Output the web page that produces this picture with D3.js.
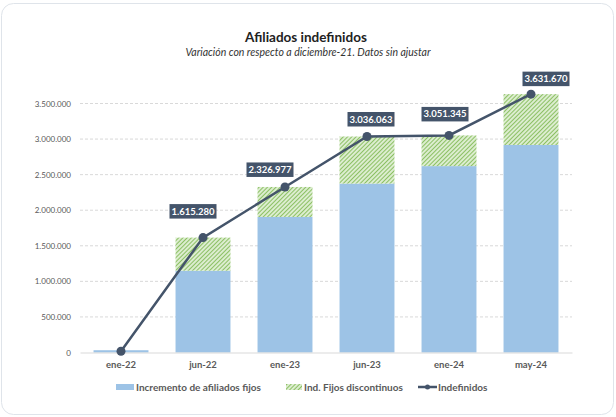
<!DOCTYPE html>
<html>
<head>
<meta charset="utf-8">
<script src="https://cdn.jsdelivr.net/npm/d3@7"></script>
<style>
  body { margin: 0; background: #ffffff; }
  svg { display: block; font-family: Lato, "Open Sans", sans-serif; }
</style>
</head>
<body>
<div id="chart"></div>
<script>
// data
var categories = ["ene-22", "jun-22", "ene-23", "jun-23", "ene-24", "may-24"];
var fijos = [32000, 1150000, 1905000, 2375000, 2620000, 2917000];
var discontinuos = [0, 465280, 421977, 661063, 431345, 714670];
var indefinidos = [18000, 1615280, 2326977, 3036063, 3051345, 3631670];
var yTicks = [0, 500000, 1000000, 1500000, 2000000, 2500000, 3000000, 3500000];
var showLabel = [false, true, true, true, true, true];
// label box offsets from the point (layout only)
var labelDx = [0, -10, -15, 4, -4, 15];
var labelDy = [0, -19, -10, -10, -14, -8];

var W = 616, H = 417;
var blue = "#9dc3e6", green = "#78b548", dark = "#44546a", grey = "#595959";

var svg = d3.select("#chart")
    .append("svg")
    .attr("width", W)
    .attr("height", H);

// card
svg.append("rect")
    .attr("x", 1.5).attr("y", 3.5)
    .attr("width", 612).attr("height", 411)
    .attr("rx", 12)
    .style("fill", "white")
    .style("stroke", "#dfe4ea")
    .style("stroke-width", 1);

var defs = svg.append("defs");
var pat = defs.append("pattern")
    .attr("id", "hatch")
    .attr("patternUnits", "userSpaceOnUse")
    .attr("width", 3).attr("height", 3)
    .attr("patternTransform", "rotate(45)");
pat.append("rect").attr("width", 3).attr("height", 3).style("fill", "#dcedcf");
pat.append("line")
    .attr("x1", 0).attr("y1", 0).attr("x2", 0).attr("y2", 3)
    .style("stroke", green).style("stroke-width", 1.6);

var x = d3.scaleBand()
    .domain(categories)
    .range([80, 572])
    .paddingInner(0.33)
    .paddingOuter(0.165);

var y = d3.scaleLinear()
    .domain([0, 3500000])
    .range([352.5, 103.5]);

var fmt = function(v) {
    return d3.format(",")(v).replace(/,/g, ".");
};

// title
svg.append("text")
    .attr("x", 306).attr("y", 42)
    .attr("text-anchor", "middle")
    .style("font-size", "13.5px")
    .style("font-weight", "bold")
    .style("fill", "#222")
    .text("Afiliados indefinidos");
svg.append("text")
    .attr("x", 308).attr("y", 56)
    .attr("text-anchor", "middle")
    .style("font-size", "10.5px")
    .style("font-style", "italic")
    .style("fill", "#333")
    .text("Variación con respecto a diciembre-21. Datos sin ajustar");

// grid
var grid = svg.append("g");
grid.selectAll("line")
    .data(yTicks.filter(function(d) { return d > 0; }))
    .enter().append("line")
    .attr("x1", 80).attr("x2", 572)
    .attr("y1", function(d) { return y(d); })
    .attr("y2", function(d) { return y(d); })
    .style("stroke", "#d9d9d9")
    .style("stroke-width", 1)
    .style("stroke-dasharray", "3,2");

// y axis labels
var yAxis = d3.axisLeft(y).tickValues(yTicks).tickFormat(fmt).tickSize(0).tickPadding(0);
var ya = svg.append("g").attr("transform", "translate(71,0)").call(yAxis);
ya.select(".domain").remove();
ya.selectAll("text")
    .style("font-family", "Lato, sans-serif")
    .style("font-size", "8px")
    .style("fill", grey);

// bars
var bars = svg.append("g");
bars.selectAll(".fijo")
    .data(categories)
    .enter().append("rect")
    .attr("class", "fijo")
    .attr("x", function(d) { return x(d); })
    .attr("width", x.bandwidth())
    .attr("y", function(d, i) { return y(fijos[i]); })
    .attr("height", function(d, i) { return y(0) - y(fijos[i]); })
    .style("fill", blue);

bars.selectAll(".disc")
    .data(categories)
    .enter().append("rect")
    .attr("class", "disc")
    .attr("x", function(d) { return x(d); })
    .attr("width", x.bandwidth())
    .attr("y", function(d, i) { return y(fijos[i] + discontinuos[i]); })
    .attr("height", function(d, i) { return y(fijos[i]) - y(fijos[i] + discontinuos[i]); })
    .style("fill", "url(#hatch)");

// x axis
var xAxis = d3.axisBottom(x).tickSize(0).tickPadding(9);
var xa = svg.append("g").attr("transform", "translate(0,352.5)").call(xAxis);
xa.select(".domain").style("stroke", "#d9d9d9");
xa.selectAll("text")
    .style("font-family", "Lato, sans-serif")
    .style("font-size", "9.5px")
    .style("font-weight", "bold")
    .style("fill", grey);

// line
var cx = function(i) { return x(categories[i]) + x.bandwidth() / 2; };
var line = d3.line()
    .x(function(d, i) { return cx(i); })
    .y(function(d) { return y(d); });

svg.append("path")
    .datum(indefinidos)
    .attr("d", line)
    .style("fill", "none")
    .style("stroke", dark)
    .style("stroke-width", 2.5);

svg.selectAll(".dot")
    .data(indefinidos)
    .enter().append("circle")
    .attr("class", "dot")
    .attr("cx", function(d, i) { return cx(i); })
    .attr("cy", function(d) { return y(d); })
    .attr("r", 4.5)
    .style("fill", dark);

// value labels
var labIdx = d3.range(indefinidos.length).filter(function(i) { return showLabel[i]; });
var lab = svg.selectAll(".lab")
    .data(labIdx)
    .enter().append("g")
    .attr("class", "lab")
    .attr("transform", function(i) {
        return "translate(" + (cx(i) + labelDx[i]) + "," + (y(indefinidos[i]) + labelDy[i]) + ")";
    });
lab.append("rect")
    .attr("x", -23.5).attr("y", -14.5)
    .attr("width", 47).attr("height", 14.5)
    .style("fill", dark);
lab.append("text")
    .attr("x", 0).attr("y", -4)
    .attr("text-anchor", "middle")
    .style("font-size", "9.5px")
    .style("font-weight", "bold")
    .style("fill", "white")
    .text(function(i) { return fmt(indefinidos[i]); });

// legend
var leg = svg.append("g").style("font-size", "10px").style("font-weight", "bold").style("fill", grey);
leg.append("rect").attr("x", 116).attr("y", 384).attr("width", 18).attr("height", 6).style("fill", blue);
leg.append("text").attr("x", 136).attr("y", 390.5).text("Incremento de afiliados fijos");
leg.append("rect").attr("x", 286).attr("y", 384).attr("width", 16).attr("height", 6).style("fill", "url(#hatch)");
leg.append("text").attr("x", 304).attr("y", 390.5).text("Ind. Fijos discontinuos");
leg.append("line").attr("x1", 418).attr("x2", 437).attr("y1", 387).attr("y2", 387)
    .style("stroke", dark).style("stroke-width", 2.5);
leg.append("circle").attr("cx", 427.5).attr("cy", 387).attr("r", 2.5).style("fill", dark);
leg.append("text").attr("x", 438).attr("y", 390.5).text("Indefinidos");
</script>
</body>
</html>
